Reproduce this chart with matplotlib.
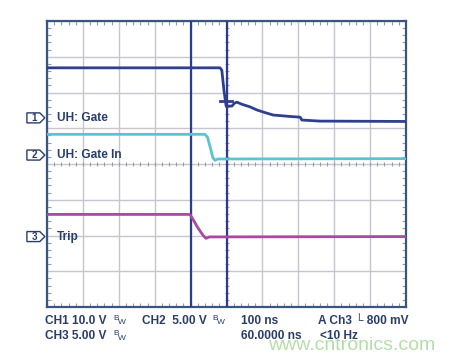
import numpy as np
import matplotlib
matplotlib.use("Agg")
import matplotlib.pyplot as plt
from matplotlib.patches import Polygon

plt.rcParams["font.family"] = ["Liberation Sans", "DejaVu Sans"]

# scope traces, in screen divisions (10 x 8)
ch1_t = [0, 4.82, 4.87, 4.93, 4.99, 5.15, 5.22, 5.29, 5.43, 5.65, 5.85,
         6.10, 6.30, 6.77, 7.05, 7.10, 7.60, 10]
ch1_v = [6.69, 6.69, 6.62, 6.05, 5.62, 5.62, 5.70, 5.73, 5.67, 5.60, 5.51,
         5.43, 5.37, 5.33, 5.31, 5.23, 5.20, 5.19]
ch2_t = [0, 4.40, 4.47, 4.55, 4.62, 4.68, 4.75, 10]
ch2_v = [4.83, 4.83, 4.75, 4.45, 4.18, 4.10, 4.14, 4.15]
ch3_t = [0, 3.98, 4.05, 4.20, 4.35, 4.43, 4.52, 10]
ch3_v = [2.59, 2.59, 2.48, 2.22, 2.00, 1.92, 1.96, 1.97]

markers = ["1", "2", "3"]
marker_lvl = [5.29, 4.25, 1.97]
names = ["UH: Gate", "UH: Gate In", "Trip"]
cursors = [4, 5]

C1, C2, C3 = "#2f3f8f", "#5cc3d2", "#a94a9e"
NAVY = "#2a3d6a"
GRID = "#c6c6ce"

fig = plt.figure(figsize=(4.51, 3.57), dpi=100)
ax = fig.add_axes([47 / 451, 50 / 357, 359 / 451, 286 / 357])
ax.set_xlim(0, 10)
ax.set_ylim(0, 8)
ax.set_xticks(np.arange(0, 11))
ax.set_yticks(np.arange(0, 9))
ax.set_xticks(np.arange(0, 10.01, 0.2), minor=True)
ax.set_yticks(np.arange(0, 8.01, 0.2), minor=True)
ax.tick_params(which="both", labelbottom=False, labelleft=False,
               top=True, right=True, direction="in")
ax.tick_params(which="major", length=0)
ax.tick_params(which="minor", length=3, width=0.8, color="#9a9aa8")
ax.grid(True, which="major", color=GRID, lw=1.0)
for s in ax.spines.values():
    s.set_color("#3a5680")
    s.set_linewidth(1.6)

# centre-line ticks
ax.plot(np.arange(0, 10.01, 0.2), np.full(51, 4.0), ls="none", marker="|",
        ms=3, color="#9a9aa8", mew=0.8)
ax.plot(np.full(41, 5.0), np.arange(0, 8.01, 0.2), ls="none", marker="_",
        ms=3, color="#9a9aa8", mew=0.8)

for c in cursors:
    ax.axvline(c, color="#2e3d8a", lw=1.6, zorder=3)

ax.plot(ch1_t, ch1_v, color=C1, lw=2.0, zorder=4)
ax.plot(ch2_t, ch2_v, color=C2, lw=2.0, zorder=4)
ax.plot(ch3_t, ch3_v, color=C3, lw=2.0, zorder=4)
ax.plot([4.82, 5.14], [5.77, 5.77], color=C1, lw=2.0, zorder=4)

for m, lv, nm in zip(markers, marker_lvl, names):
    h = 0.14
    poly = Polygon([(-0.56, lv - h), (-0.2, lv - h), (-0.06, lv),
                    (-0.2, lv + h), (-0.56, lv + h)], closed=True,
                   fc="white", ec=NAVY, lw=1.0, clip_on=False, zorder=5)
    ax.add_patch(poly)
    ax.text(-0.36, lv, m, ha="center", va="center", fontsize=7,
            fontweight="bold", color=NAVY, clip_on=False, zorder=6)
    ax.text(0.28, lv, nm, ha="left", va="center", fontsize=8.6,
            fontweight="bold", color=NAVY, zorder=6)


def ftext(px, py, s, **kw):
    fig.text(px / 451, 1 - py / 357, s, va="center", color=NAVY, **kw)


row1, row2 = 320.7, 336
ftext(45, row1, "CH1 10.0 V", fontsize=8.6, fontweight="bold")
ftext(113, row1 - 2.5, "B", fontsize=6)
ftext(118, row1 + 2, "W", fontsize=6)
ftext(142, row1, "CH2  5.00 V", fontsize=8.6, fontweight="bold")
ftext(212, row1 - 2.5, "B", fontsize=6)
ftext(217, row1 + 2, "W", fontsize=6)
ftext(241, row1, "100 ns", fontsize=8.6, fontweight="bold")
ftext(318, row1, "A Ch3 \u2514 800 mV", fontsize=8.6, fontweight="bold")
ftext(45, row2, "CH3 5.00 V", fontsize=8.6, fontweight="bold")
ftext(113, row2 - 2.5, "B", fontsize=6)
ftext(118, row2 + 2, "W", fontsize=6)
ftext(241, row2, "60.0000 ns", fontsize=8.6, fontweight="bold")
ftext(320, row2, "<10 Hz", fontsize=8.6, fontweight="bold")
fig.text(268 / 451, 1 - 345 / 357, "www.cntronics.com", va="center",
         fontsize=14, color="#a8d89c", alpha=0.85)

fig.savefig("out.png", dpi=100)
